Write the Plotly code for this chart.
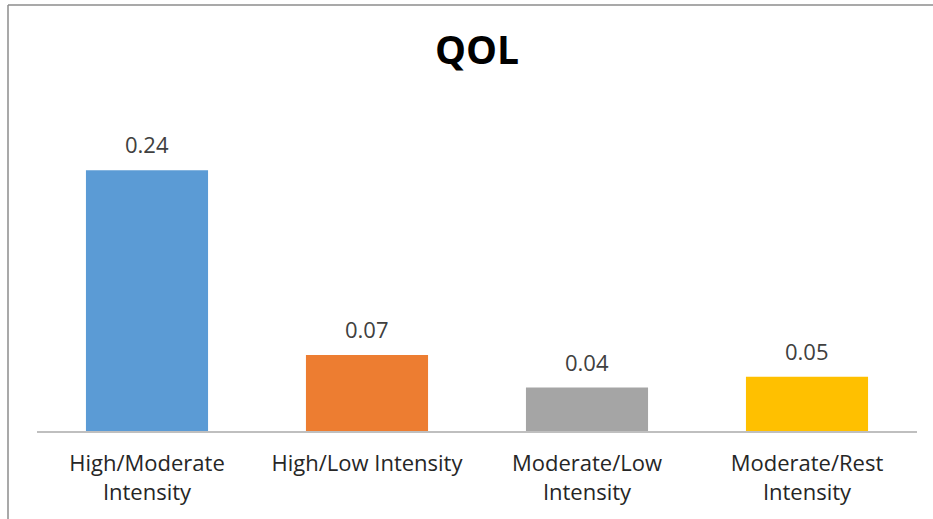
import plotly.graph_objects as go

# QOL chart data
categories = ["High/Moderate<br>Intensity", "High/Low Intensity",
              "Moderate/Low<br>Intensity", "Moderate/Rest<br>Intensity"]
values = [0.24, 0.07, 0.04, 0.05]
bar_colors = ["#5B9BD5", "#ED7D31", "#A5A5A5", "#FFC000"]

W, H = 933, 519
L, R, T, B = 37, 16, 105, 88
pw = W - L - R
ph = H - T - B

fig = go.Figure()
fig.add_trace(go.Bar(
    x=categories,
    y=values,
    marker=dict(color=bar_colors, line=dict(width=0)),
    hoverinfo="skip",
))

# value labels above the bars
for c, v in zip(categories, values):
    fig.add_annotation(
        x=c, y=v, text=f"{v:.2f}", showarrow=False,
        yanchor="bottom", yshift=9,
        font=dict(family="Open Sans", size=22, color="#404040"),
    )

# outer frame (left and top edges only, the rest is cropped off)
fx = (8 - L) / pw
fy = 1 + (T - 5) / ph
fig.add_shape(type="line", xref="paper", yref="paper", x0=fx, x1=fx, y0=fy, y1=-2,
              line=dict(color="#8c8c8c", width=1.5))
fig.add_shape(type="line", xref="paper", yref="paper", x0=fx, x1=2, y0=fy, y1=fy,
              line=dict(color="#8c8c8c", width=1.5))

fig.update_layout(
    width=W, height=H,
    margin=dict(l=L, r=R, t=T, b=B),
    paper_bgcolor="white",
    plot_bgcolor="white",
    bargap=0.445,
    showlegend=False,
    title=dict(
        text="<b>QOL</b>",
        xref="paper", x=0.5, xanchor="center",
        y=(H - 50) / H, yanchor="middle",
        font=dict(family="Open Sans", size=39, color="#000000"),
    ),
    xaxis=dict(
        showline=True, linecolor="#bfbfbf", linewidth=1.5,
        showgrid=False, ticks="outside", ticklen=12, tickcolor="white",
        tickfont=dict(family="Open Sans", size=22, color="#262626"),
    ),
    yaxis=dict(
        range=[0, 0.3], visible=False, showgrid=False, zeroline=False,
    ),
)

# drop the page's default body margin so the figure sits at the window origin
fig.write_html("out.html", config={"displayModeBar": False},
               post_script="document.body.style.margin='0px';")
